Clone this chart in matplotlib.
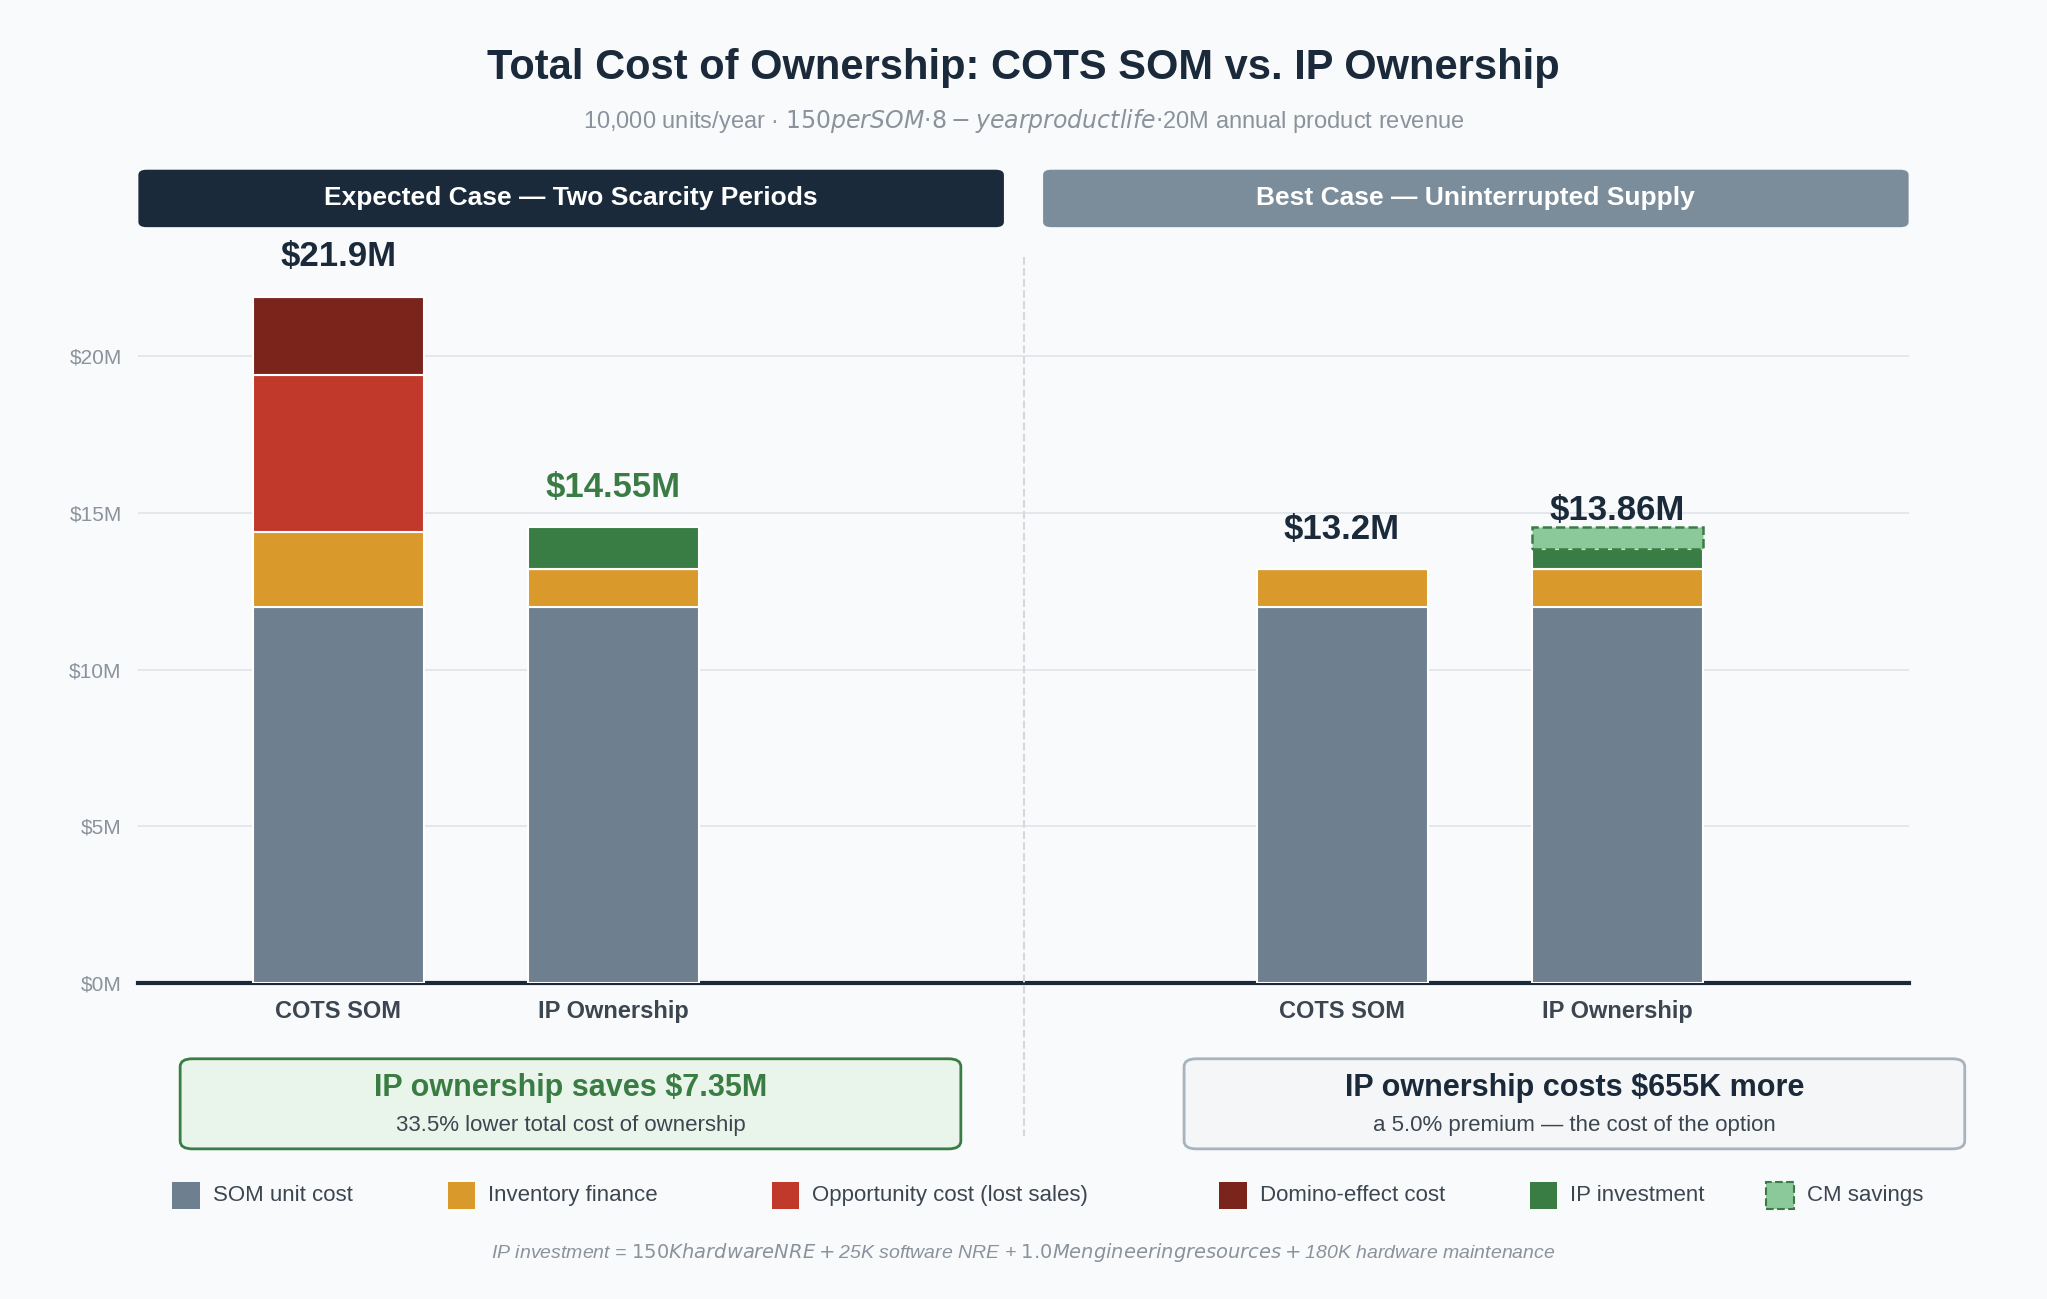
import matplotlib.pyplot as plt
from matplotlib.patches import FancyBboxPatch, Rectangle

plt.rcParams['font.family'] = ['Liberation Sans', 'DejaVu Sans']

# values in $M
groups = ['COTS SOM', 'IP Ownership', 'COTS SOM', 'IP Ownership']
som_cost = [12.0, 12.0, 12.0, 12.0]
inventory = [2.4, 1.2, 1.2, 1.2]
opportunity = [5.0, 0, 0, 0]
domino = [2.5, 0, 0, 0]
ip_invest = [0, 1.355, 0, 0.66]
cm_savings = [0, 0, 0, 0.695]
totals = ['$21.9M', '$14.55M', '$13.2M', '$13.86M']
total_colors = ['#1b2a3b', '#3a7d44', '#1b2a3b', '#1b2a3b']

W, H = 1568, 995  # layout grid in reference pixels
bar_x = [259, 470, 1028, 1239]
bar_w = 131

C_SOM, C_INV, C_OPP, C_DOM, C_IP, C_CM = '#6e7f8f', '#d9992b', '#c0392b', '#7b241c', '#3a7d44', '#8cc99a'
BG = '#f9fafc'

fig = plt.figure(figsize=(20.47, 12.99), dpi=100, facecolor=BG)

def fx(x): return x / W
def fy(y): return 1 - y / H

ax = fig.add_axes([fx(106), fy(753), fx(1462) - fx(106), fy(195) - fy(753)])
ax.set_facecolor(BG)
ax.set_xlim(106, 1462)
ax.set_ylim(0, 23.25)

bottom = [0, 0, 0, 0]
for vals, col in [(som_cost, C_SOM), (inventory, C_INV), (opportunity, C_OPP),
                  (domino, C_DOM), (ip_invest, C_IP)]:
    ax.bar(bar_x, vals, bar_w, bottom=bottom, color=col, edgecolor='white', linewidth=1.5, zorder=3)
    bottom = [b + v for b, v in zip(bottom, vals)]
for i, v in enumerate(cm_savings):
    if v > 0:
        ax.bar(bar_x[i], v, bar_w, bottom=bottom[i], color=C_CM, edgecolor=C_IP,
               linewidth=1.8, linestyle='--', zorder=3)
        bottom[i] += v

tops = [21.9, 14.555, 13.2, 14.555]
for i in range(4):
    y = tops[i] + (0.4 if i != 3 else -0.35)
    ax.text(bar_x[i], y + 0.35, totals[i], ha='center', va='bottom', fontsize=25,
            fontweight='bold', color=total_colors[i], zorder=4)

ax.set_yticks([0, 5, 10, 15, 20])
ax.set_yticklabels(['$0M', '$5M', '$10M', '$15M', '$20M'], fontsize=15, color='#8a939c')
ax.grid(axis='y', color='#e2e5ea', linewidth=1.3, zorder=0)
ax.set_xticks(bar_x)
ax.set_xticklabels(groups, fontsize=17, fontweight='bold', color='#3c4650')
ax.tick_params(length=0, pad=12)
for s in ['top', 'right', 'left']:
    ax.spines[s].set_visible(False)
ax.spines['bottom'].set_color('#1b2a3b')
ax.spines['bottom'].set_linewidth(3)

# divider
fig.add_artist(plt.Line2D([fx(784)] * 2, [fy(197), fy(870)], color='#d5d9de',
                          linestyle='--', linewidth=1.5))

fig.text(0.5, fy(52), 'Total Cost of Ownership: COTS SOM vs. IP Ownership', ha='center',
         va='center', fontsize=30, fontweight='bold', color='#1b2a3b')
fig.text(0.5, fy(93), '10,000 units/year \u00b7 $150 per SOM \u00b7 8-year product life \u00b7 $20M annual product revenue',
         ha='center', va='center', fontsize=17, color='#8a939c')

for x0, x1, col, txt in [(106, 769, '#1b2a3b', 'Expected Case \u2014 Two Scarcity Periods'),
                         (799, 1462, '#7b8d9b', 'Best Case \u2014 Uninterrupted Supply')]:
    fig.add_artist(FancyBboxPatch((fx(x0), fy(174)), fx(x1) - fx(x0), fy(130) - fy(174),
                                  boxstyle='round,pad=0,rounding_size=0.004', facecolor=col,
                                  edgecolor='none', transform=fig.transFigure))
    fig.text(fx((x0 + x1) / 2), fy(152), txt, ha='center', va='center', fontsize=19,
             fontweight='bold', color='white')

for x0, x1, fc, ec, t1, t1c, t2 in [
        (138, 736, '#e9f4ea', '#3a7d44', 'IP ownership saves $7.35M', '#3a7d44',
         '33.5% lower total cost of ownership'),
        (907, 1505, '#f4f6f8', '#a8b3bd', 'IP ownership costs $655K more', '#1b2a3b',
         'a 5.0% premium \u2014 the cost of the option')]:
    fig.add_artist(FancyBboxPatch((fx(x0), fy(880)), fx(x1) - fx(x0), fy(811) - fy(880),
                                  boxstyle='round,pad=0,rounding_size=0.006', facecolor=fc,
                                  edgecolor=ec, linewidth=2, transform=fig.transFigure))
    fig.text(fx((x0 + x1) / 2), fy(833), t1, ha='center', va='center', fontsize=22,
             fontweight='bold', color=t1c)
    fig.text(fx((x0 + x1) / 2), fy(862), t2, ha='center', va='center', fontsize=16, color='#3c4650')

legend = [(132, C_SOM, 'SOM unit cost'), (343, C_INV, 'Inventory finance'),
          (591, C_OPP, 'Opportunity cost (lost sales)'), (934, C_DOM, 'Domino-effect cost'),
          (1172, C_IP, 'IP investment'), (1353, C_CM, 'CM savings')]
for x, col, lab in legend:
    dashed = lab == 'CM savings'
    fig.add_artist(Rectangle((fx(x), fy(926)), fx(21), fy(905) - fy(926), facecolor=col,
                             edgecolor=C_IP if dashed else 'none', linestyle='--',
                             linewidth=1.5, transform=fig.transFigure))
    fig.text(fx(x + 31), fy(916), lab, ha='left', va='center', fontsize=16, color='#3c4650')

fig.text(0.5, fy(959), 'IP investment = $150K hardware NRE + $25K software NRE + $1.0M engineering resources + $180K hardware maintenance',
         ha='center', va='center', fontsize=14, style='italic', color='#8a939c')

fig.savefig('out.png', dpi=100, facecolor=BG)
